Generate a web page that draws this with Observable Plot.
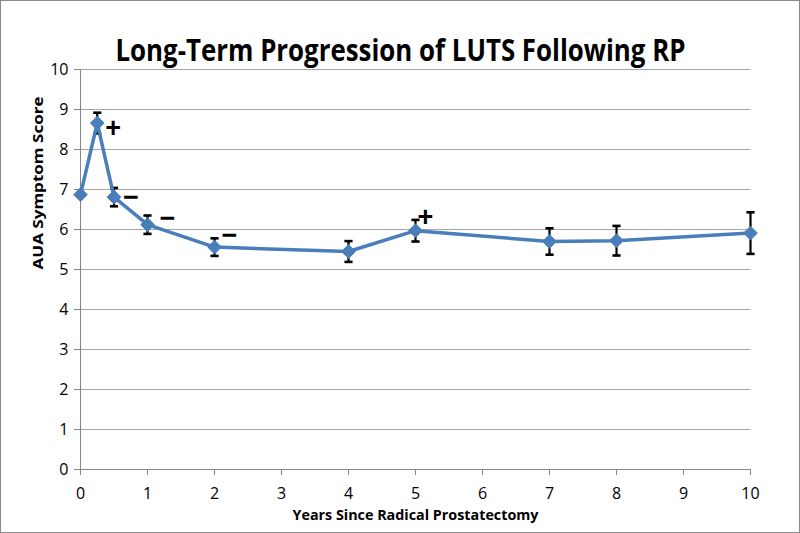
<!DOCTYPE html>
<html><head><meta charset="utf-8">
<script src="https://cdn.jsdelivr.net/npm/d3@7"></script>
<script src="https://cdn.jsdelivr.net/npm/@observablehq/plot@0.6"></script>
<style>
html,body{margin:0;padding:0;background:#fff;}
#chart{position:relative;width:800px;height:533px;}
#chart svg{display:block;}
#frame{position:absolute;left:0;top:0;width:798px;height:531px;border:1px solid #8c8c8c;pointer-events:none;}
</style></head><body><div id="chart"><div id="frame"></div></div>
<script>
// ---- data ----
const title = "Long-Term Progression of LUTS Following RP";
const xLabel = "Years Since Radical Prostatectomy";
const yLabel = "AUA Symptom Score";
const years  = [0, 0.25, 0.5, 1, 2, 4, 5, 7, 8, 10];
const scores = [6.87, 8.66, 6.81, 6.12, 5.56, 5.45, 5.97, 5.70, 5.72, 5.91];
const errors = [null, 0.26, 0.23, 0.23, 0.22, 0.26, 0.27, 0.33, 0.37, 0.52];
const xTicks = [0, 1, 2, 3, 4, 5, 6, 7, 8, 9, 10];
const yTicks = [0, 1, 2, 3, 4, 5, 6, 7, 8, 9, 10];
const annYears = [0.25, 0.5, 1, 2, 5];
const annSigns = ["+", "\u2212", "\u2212", "\u2212", "+"];

const rows = years.map((x, i) => ({x, y: scores[i], e: errors[i]}));
const bars = rows.filter(d => d.e != null).map(d => ({x: d.x, lo: d.y - d.e, hi: d.y + d.e}));
const anns = annYears.map((x, i) => ({x, y: scores[years.indexOf(x)], s: annSigns[i]}));
// label offsets (presentation only)
const annOffsets = [[16, 5], [17, 0], [20, -6], [15, -12], [10, -13]];

const capSymbol = {draw(ctx, size) { const w = Math.sqrt(size); ctx.moveTo(-w, 0); ctx.lineTo(w, 0); }};
const blue = "#4a7ebb";
const font = "'Open Sans', 'Noto Sans', sans-serif";

const plot = Plot.plot({
  width: 800, height: 533,
  marginLeft: 80, marginRight: 50, marginTop: 69, marginBottom: 64,
  style: {fontFamily: font, fontSize: "16px", color: "black", background: "white"},
  x: {domain: [0, 10], ticks: xTicks},
  y: {domain: [0, 10], ticks: yTicks},
  marks: [
    Plot.gridY(yTicks, {stroke: "#a6a6a6", strokeOpacity: 1, strokeWidth: 1}),
    Plot.ruleX([0], {stroke: "#868686"}),
    Plot.ruleY([0], {stroke: "#868686"}),
    Plot.axisX(xTicks, {tickSize: 6, stroke: "#868686", fill: "black", tickPadding: 12, label: null, fontSize: 16}),
    Plot.axisY(yTicks, {tickSize: 6, stroke: "#868686", fill: "black", tickPadding: 6, label: null, fontSize: 16}),
    Plot.ruleX(bars, {x: "x", y1: "lo", y2: "hi", stroke: "black", strokeWidth: 2.2}),
    Plot.dot(bars, {x: "x", y: "lo", symbol: capSymbol, r: 2.3, stroke: "black", strokeWidth: 2.6, fill: "none"}),
    Plot.dot(bars, {x: "x", y: "hi", symbol: capSymbol, r: 2.3, stroke: "black", strokeWidth: 2.6, fill: "none"}),
    Plot.line(rows, {x: "x", y: "y", stroke: blue, strokeWidth: 3.5}),
    Plot.dot(rows, {x: "x", y: "y", symbol: "diamond2", r: 6.2, fill: blue, stroke: blue, strokeWidth: 1}),
    ...anns.map((d, i) => Plot.text([d], {x: "x", y: "y", text: "s", dx: annOffsets[i][0], dy: annOffsets[i][1],
      fontSize: 27, fontWeight: "bold", fill: "black", fontFamily: "'Liberation Sans', sans-serif"})),
    Plot.text([title], {frameAnchor: "top", dy: -31, dx: -15, text: d => d, fontSize: 31, fontWeight: "bold", fill: "black"}),
    Plot.text([xLabel], {frameAnchor: "bottom", dy: 50, text: d => d, fontSize: 14, fontWeight: "bold", fill: "black"}),
    Plot.text([yLabel], {frameAnchor: "left", dx: -42, rotate: -90, text: d => d, fontSize: 14, fontWeight: "bold", fill: "black"})
  ]
});
document.getElementById("chart").prepend(plot);
// fit label widths to reference
d3.select(plot).selectAll("text").each(function() {
  const t = this.textContent;
  if (t === title) { this.setAttribute("textLength", 570); this.setAttribute("lengthAdjust", "spacingAndGlyphs"); }
  if (t === xLabel) { this.setAttribute("textLength", 246); this.setAttribute("lengthAdjust", "spacingAndGlyphs"); }
  if (t === yLabel) { this.setAttribute("textLength", 173); this.setAttribute("lengthAdjust", "spacingAndGlyphs"); }
});
</script></body></html>
